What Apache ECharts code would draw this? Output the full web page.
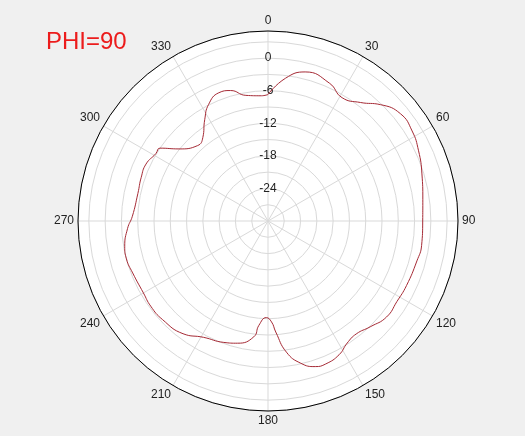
<!DOCTYPE html>
<html>
<head>
<meta charset="utf-8">
<script src="https://cdn.jsdelivr.net/npm/echarts@6/dist/echarts.min.js"></script>
<style>
  html, body { margin: 0; padding: 0; background: #f0f0f0; }
  #chart { width: 525px; height: 436px; }
</style>
</head>
<body>
<div id="chart"></div>
<script>
// pattern: angle in degrees, gain in dB
const angles = [0, 7, 14, 24, 31, 38, 44, 51, 58, 65, 73, 82, 90, 99, 105, 115, 122, 129, 136, 142, 147, 152, 158, 162, 167, 172, 176, 178, 181, 185, 187, 194, 200, 209, 217, 227, 234, 240, 249, 255, 260, 267, 272, 282, 289, 295, 301, 304, 309, 317, 322, 328, 333, 339, 344, 350, 357, 360]
const gains = [-6.7, -3.5, -1.7, -2.2, -3.5, -2.3, -0.2, 1.4, 1.3, 0.6, -0.35, -1.2, -1.5, -1.35, -1.6, -1.85, -2.0, -1.9, -2.9, -3.6, -3.2, -2.1, -1.6, -1.8, -3.1, -5.6, -9.5, -11.4, -12.2, -10.7, -8.5, -6.8, -6.2, -5.5, -4.0, -3.4, -3.3, -3.5, -3.3, -3.0, -3.2, -4.1, -5.0, -5.5, -5.3, -5.2, -5.9, -6.0, -8.9, -11.0, -10.5, -8.0, -5.9, -4.7, -5.0, -6.5, -6.9, -6.7]
const radiusLabels = [0, -6, -12, -18, -24]

const chart = echarts.init(document.getElementById('chart'))

chart.setOption({
  backgroundColor: '#f0f0f0',
  animation: false,
  title: {
    text: 'PHI=90',
    left: 46,
    top: 30,
    padding: 0,
    textStyle: { color: '#ec1c1c', fontSize: 24, fontWeight: 'normal', fontFamily: 'Liberation Sans, Arial, sans-serif' }
  },
  polar: { center: [268, 221], radius: 190 },
  angleAxis: {
    type: 'value',
    min: 0,
    max: 360,
    interval: 30,
    startAngle: 90,
    clockwise: true,
    axisLine: { lineStyle: { color: '#000', width: 1 } },
    axisTick: { show: false },
    axisLabel: { margin: 4, color: '#222', fontSize: 12, fontFamily: 'Liberation Sans, Arial, sans-serif' },
    splitLine: { show: true, lineStyle: { color: '#d9d9d9', width: 1 } }
  },
  radiusAxis: {
    type: 'value',
    min: -30,
    max: 5,
    interval: 3,
    axisLine: { show: false },
    axisTick: { show: false },
    axisLabel: {
      margin: 0,
      align: 'center',
      verticalAlign: 'middle',
      color: '#222',
      fontSize: 12,
      fontFamily: 'Liberation Sans, Arial, sans-serif',
      formatter: v => radiusLabels.includes(v) ? String(v) : ''
    },
    splitLine: { show: true, lineStyle: { color: '#d9d9d9', width: 1 } }
  },
  graphic: [{
    type: 'circle',
    shape: { cx: 268, cy: 221, r: 190 },
    style: { fill: '#ffffff' },
    z: -10,
    silent: true
  }],
  series: [{
    type: 'line',
    coordinateSystem: 'polar',
    smooth: true,
    showSymbol: false,
    lineStyle: { color: '#a52a35', width: 1 },
    data: angles.map((a, i) => [gains[i], a])
  }]
})
</script>
</body>
</html>
